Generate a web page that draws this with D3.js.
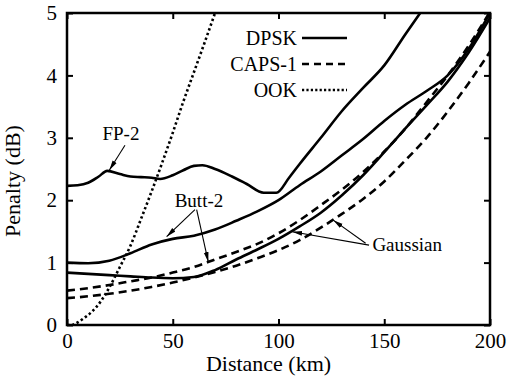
<!DOCTYPE html>
<html>
<head>
<meta charset="utf-8">
<script src="https://cdn.jsdelivr.net/npm/d3@7"></script>
</head>
<body style="margin:0">
<script>
// distance (km) / penalty (dB) pairs
const fpDist    = [0, 5, 10, 15, 19, 25, 30, 35, 40, 44, 50, 55, 60, 64, 70, 78, 85, 93, 99, 105, 110, 120, 130, 140, 150, 160, 167];
const fpDpsk    = [2.23, 2.24, 2.28, 2.38, 2.47, 2.42, 2.38, 2.37, 2.36, 2.34, 2.40, 2.48, 2.55, 2.56, 2.50, 2.38, 2.26, 2.12, 2.12, 2.36, 2.58, 3.0, 3.43, 3.80, 4.16, 4.66, 5.0];

const dist        = [0, 10, 20, 30, 40, 50, 60, 70, 80, 90, 100, 110, 120, 130, 140, 150, 160, 170, 180, 190, 200];
const buttDpsk    = [1.0, 0.99, 1.03, 1.15, 1.29, 1.38, 1.43, 1.53, 1.67, 1.82, 2.0, 2.24, 2.46, 2.72, 2.98, 3.27, 3.53, 3.75, 4.0, 4.43, 5.0];
const gaussDpsk   = [0.84, 0.82, 0.80, 0.78, 0.76, 0.75, 0.77, 0.88, 1.05, 1.21, 1.38, 1.58, 1.80, 2.08, 2.40, 2.77, 3.15, 3.52, 3.90, 4.37, 4.92];
const buttCaps    = [0.55, 0.59, 0.64, 0.70, 0.76, 0.84, 0.93, 1.05, 1.17, 1.30, 1.47, 1.68, 1.92, 2.17, 2.45, 2.78, 3.15, 3.57, 4.0, 4.48, 5.02];
const gaussCaps   = [0.43, 0.46, 0.50, 0.55, 0.61, 0.68, 0.76, 0.85, 0.95, 1.07, 1.20, 1.36, 1.56, 1.78, 2.02, 2.30, 2.64, 3.0, 3.42, 3.88, 4.38];

const ookDist = [0, 2, 5, 8, 12, 16, 20, 25, 30, 35, 40, 45, 50, 55, 60, 65, 70];
const ook     = [0, 0, 0.04, 0.11, 0.22, 0.38, 0.60, 0.93, 1.27, 1.70, 2.14, 2.60, 3.08, 3.58, 4.05, 4.52, 5.0];

const xTicks = [0, 50, 100, 150, 200];
const yTicks = [0, 1, 2, 3, 4, 5];
const legendNames = ['DPSK', 'CAPS-1', 'OOK'];

const FONT = '"Liberation Serif"';
const W = 508, H = 379;
const margin = { top: 13, right: 18, bottom: 54, left: 67 };
const width = W - margin.left - margin.right;
const height = H - margin.top - margin.bottom;

const svg = d3.select('body').append('svg')
  .attr('width', W)
  .attr('height', H);

const defs = svg.append('defs');
defs.append('clipPath').attr('id', 'plot-clip')
  .append('rect').attr('width', width).attr('height', height);
defs.append('marker')
  .attr('id', 'arrow')
  .attr('viewBox', '0 0 10 6')
  .attr('refX', 10).attr('refY', 3)
  .attr('markerWidth', 10).attr('markerHeight', 6)
  .attr('markerUnits', 'userSpaceOnUse')
  .attr('orient', 'auto')
  .append('path').attr('d', 'M0,0.6 L10,3 L0,5.4 Z').attr('fill', '#000');

const g = svg.append('g').attr('transform', `translate(${margin.left},${margin.top})`);

const x = d3.scaleLinear().domain([0, 200]).range([0, width]);
const y = d3.scaleLinear().domain([0, 5]).range([height, 0]);

// every text gets the serif face explicitly
const serif = (sel, size) => sel
  .attr('font-family', FONT)
  .style('font-family', FONT)
  .style('font-size', size + 'px')
  .attr('fill', '#000');

// ticks on all four sides, pointing inward
const tickLen = 6;
const bottomAxis = g.append('g').attr('transform', `translate(0,${height})`)
  .call(d3.axisBottom(x).tickValues(xTicks).tickSize(-tickLen).tickPadding(8).tickFormat(d3.format('d')));
const topAxis = g.append('g')
  .call(d3.axisTop(x).tickValues(xTicks).tickSize(-tickLen).tickFormat(''));
const leftAxis = g.append('g')
  .call(d3.axisLeft(y).tickValues(yTicks).tickSize(-tickLen).tickPadding(10).tickFormat(d3.format('d')));
const rightAxis = g.append('g').attr('transform', `translate(${width},0)`)
  .call(d3.axisRight(y).tickValues(yTicks).tickSize(-tickLen).tickFormat(''));
[bottomAxis, topAxis, leftAxis, rightAxis].forEach(a => {
  a.attr('font-family', FONT).attr('font-size', null);
  a.select('.domain').remove();
});
serif(bottomAxis.selectAll('text'), 21);
serif(leftAxis.selectAll('text'), 21);
g.selectAll('.tick line').attr('stroke', '#000').attr('stroke-width', 2);

const plot = g.append('g').attr('clip-path', 'url(#plot-clip)');
const line = d3.line()
  .x(d => x(d[0]))
  .y(d => y(d[1]))
  .curve(d3.curveMonotoneX);

const series = [
  { xs: fpDist, ys: fpDpsk, dash: null },
  { xs: dist, ys: buttDpsk, dash: null },
  { xs: dist, ys: gaussDpsk, dash: null },
  { xs: dist, ys: buttCaps, dash: '8,5' },
  { xs: dist, ys: gaussCaps, dash: '8,5' },
  { xs: ookDist, ys: ook, dash: '2.4,2.6' }
];

series.forEach(s => {
  plot.append('path')
    .datum(s.xs.map((d, i) => [d, s.ys[i]]))
    .attr('fill', 'none')
    .attr('stroke', '#000')
    .attr('stroke-width', 2.6)
    .attr('stroke-dasharray', s.dash)
    .attr('d', line);
});

// frame
g.append('rect')
  .attr('width', width).attr('height', height)
  .attr('fill', 'none').attr('stroke', '#000').attr('stroke-width', 2.5);

// legend
const legendDash = [null, '7,5', '2.2,2.2'];
const legend = g.append('g').attr('transform', 'translate(230,25)');
legendNames.forEach((name, i) => {
  const row = legend.append('g').attr('transform', `translate(0,${i * 26})`);
  row.append('text')
    .attr('x', 0).attr('y', 7)
    .attr('text-anchor', 'end')
    .text(name)
    .call(serif, 20);
  row.append('line')
    .attr('x1', 5).attr('x2', 50)
    .attr('stroke', '#000').attr('stroke-width', 2.6)
    .attr('stroke-dasharray', legendDash[i]);
});

// annotations in data coordinates
const notes = [
  { text: 'FP-2', at: [25.5, 2.96], anchor: 'middle', arrows: [[[27.4, 2.88], [20, 2.48]]] },
  { text: 'Butt-2', at: [62.4, 1.89], anchor: 'middle', arrows: [[[60.5, 1.85], [47.1, 1.415]], [[61.3, 1.85], [66.8, 1.01]]] },
  { text: 'Gaussian', at: [144.4, 1.19], anchor: 'start', arrows: [[[142.8, 1.28], [106.5, 1.495]], [[141.2, 1.31], [125.9, 1.68]]] }
];
notes.forEach(n => {
  g.append('text')
    .attr('x', x(n.at[0])).attr('y', y(n.at[1]))
    .attr('text-anchor', n.anchor)
    .text(n.text)
    .call(serif, 19);
  n.arrows.forEach(a => {
    g.append('line')
      .attr('x1', x(a[0][0])).attr('y1', y(a[0][1]))
      .attr('x2', x(a[1][0])).attr('y2', y(a[1][1]))
      .attr('stroke', '#000').attr('stroke-width', 1.1)
      .attr('marker-end', 'url(#arrow)');
  });
});

// axis titles
g.append('text')
  .attr('x', width / 2 - 10).attr('y', height + 46)
  .attr('text-anchor', 'middle')
  .text('Distance (km)')
  .call(serif, 22);
g.append('text')
  .attr('transform', `translate(${-47},${height / 2 + 12}) rotate(-90)`)
  .attr('text-anchor', 'middle')
  .text('Penalty (dB)')
  .call(serif, 22);
</script>
</body>
</html>
